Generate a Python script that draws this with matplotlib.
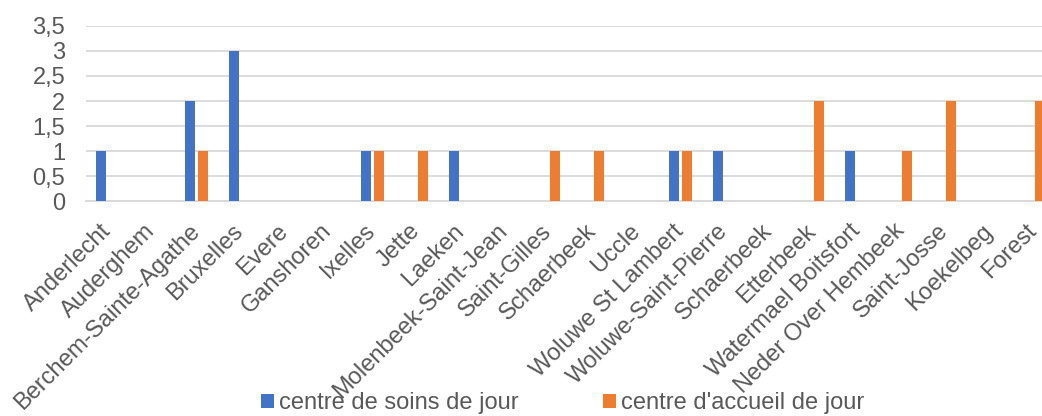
import numpy as np
import matplotlib.pyplot as plt
from matplotlib.ticker import FuncFormatter

# ---- données ----
communes = [
    "Anderlecht", "Auderghem", "Berchem-Sainte-Agathe", "Bruxelles", "Evere",
    "Ganshoren", "Ixelles", "Jette", "Laeken", "Molenbeek-Saint-Jean",
    "Saint-Gilles", "Schaerbeek", "Uccle", "Woluwe St Lambert",
    "Woluwe-Saint-Pierre", "Schaerbeek", "Etterbeek", "Watermael Boitsfort",
    "Neder Over Hembeek", "Saint-Josse", "Koekelbeg", "Forest",
]
soins_jour   = [1, 0, 2, 3, 0, 0, 1, 0, 1, 0, 0, 0, 0, 1, 1, 0, 0, 1, 0, 0, 0, 0]
accueil_jour = [0, 0, 1, 0, 0, 0, 1, 1, 0, 0, 1, 1, 0, 1, 0, 0, 2, 0, 1, 2, 0, 2]
series_noms  = ["centre de soins de jour", "centre d'accueil de jour"]

BLEU   = "#4472C4"
ORANGE = "#ED7D31"
GRIS_TXT  = "#595959"
GRIS_GRID = "#D9D9D9"
TAILLE = 17

plt.rcParams["font.family"] = ["Liberation Sans", "DejaVu Sans"]

fig = plt.figure(figsize=(10.42, 4.16), dpi=100)
ax = fig.add_axes([0.0825, 0.516, 0.930, 0.422])

x = np.arange(len(communes))
largeur = 0.227
decal = 0.148
ax.bar(x - decal, soins_jour, width=largeur, color=BLEU, label=series_noms[0], zorder=3)
ax.bar(x + decal, accueil_jour, width=largeur, color=ORANGE, label=series_noms[1], zorder=3)

ax.set_xlim(-0.5, len(communes) - 0.5)
ax.set_ylim(0, 3.5)
ax.set_yticks(np.arange(0, 3.51, 0.5))
ax.yaxis.set_major_formatter(FuncFormatter(lambda v, p: f"{v:g}".replace(".", ",")))
ax.grid(axis="y", color=GRIS_GRID, linewidth=1.3, zorder=0)

# étiquettes inclinées, ancrées au milieu droit comme dans Excel
ax.set_xticks(x)
ax.set_xticklabels(communes, rotation=45, ha="right", va="center", rotation_mode="anchor")
ax.tick_params(axis="x", length=0, pad=19, labelsize=TAILLE, labelcolor=GRIS_TXT)
ax.tick_params(axis="y", length=0, pad=15, labelsize=TAILLE, labelcolor=GRIS_TXT)

for cote in ["top", "right", "left"]:
    ax.spines[cote].set_visible(False)
ax.spines["bottom"].set_color(GRIS_GRID)
ax.spines["bottom"].set_linewidth(1.3)

handles, labels = ax.get_legend_handles_labels()
fig.legend(handles, labels, loc="center", bbox_to_anchor=(0.54, 0.031), ncol=2,
           frameon=False, fontsize=TAILLE, labelcolor=GRIS_TXT,
           handlelength=0.55, handleheight=0.55, handletextpad=0.2, columnspacing=3.6,
           borderpad=0)

fig.savefig("out.png", dpi=100)
